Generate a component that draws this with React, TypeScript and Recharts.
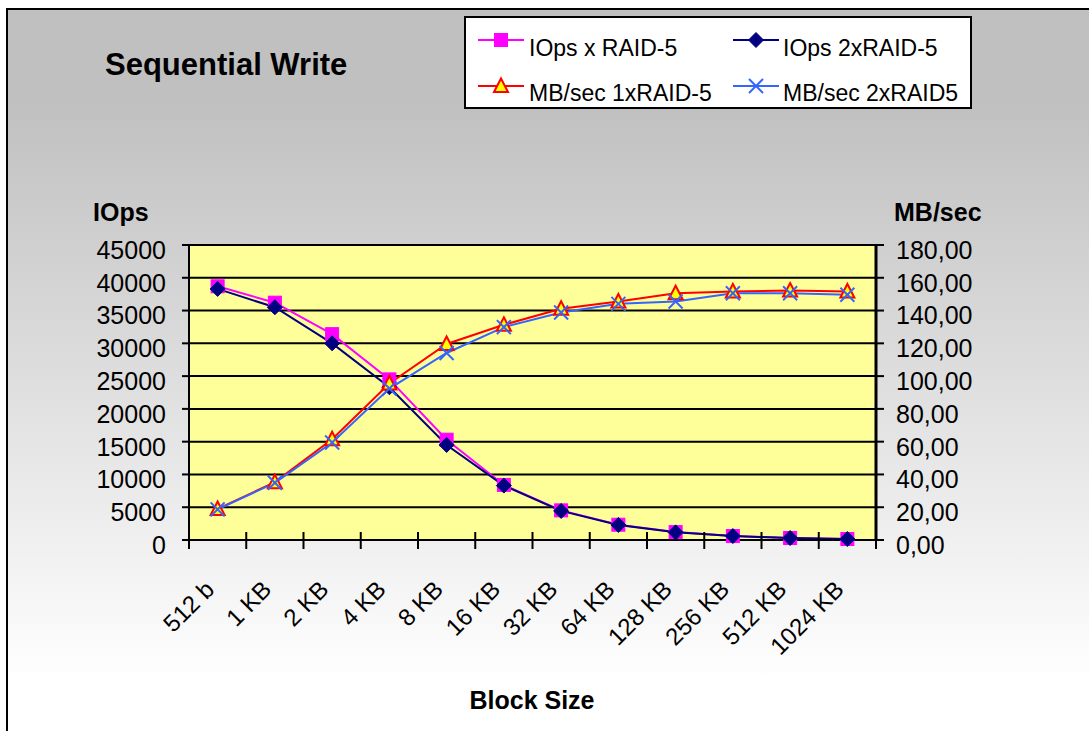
import React from 'react';
import { LineChart, Line, XAxis, YAxis, CartesianGrid, Legend } from 'recharts';

// ---- data ----
const blockSizes = ['512 b', '1 KB', '2 KB', '4 KB', '8 KB', '16 KB', '32 KB', '64 KB', '128 KB', '256 KB', '512 KB', '1024 KB'];
const iopsRaid5 = [38700, 36200, 31400, 24500, 15300, 8400, 4520, 2330, 1205, 606, 304, 152];
const iops2xRaid5 = [38300, 35500, 30000, 23300, 14500, 8300, 4440, 2300, 1165, 602, 301, 150];
const mbs1xRaid5 = [18.9, 35.3, 61.5, 95.5, 119.6, 131.3, 141.1, 145.5, 150.6, 151.6, 152.2, 151.6];
const mbs2xRaid5 = [18.7, 34.9, 59.5, 92.4, 114.1, 129.9, 138.8, 144.1, 145.5, 150.6, 150.6, 149.6];
const iopsTicks = [0, 5000, 10000, 15000, 20000, 25000, 30000, 35000, 40000, 45000];
const mbTicks = [0, 20, 40, 60, 80, 100, 120, 140, 160, 180];

const rows = blockSizes.map((block, i) => ({
  block,
  idx: i,
  iops1: iopsRaid5[i],
  iops2: iops2xRaid5[i],
  mb1: mbs1xRaid5[i],
  mb2: mbs2xRaid5[i],
}));
const boundaryTicks = blockSizes.map((_, i) => i).concat(blockSizes.length);

const series = [
  { key: 'iops1', name: 'IOps x RAID-5', color: '#FF00FF', axis: 'left', marker: 'square' },
  { key: 'iops2', name: 'IOps 2xRAID-5', color: '#000080', axis: 'left', marker: 'diamond' },
  { key: 'mb1', name: 'MB/sec 1xRAID-5', color: '#FF0000', axis: 'right', marker: 'triangle' },
  { key: 'mb2', name: 'MB/sec 2xRAID5', color: '#3366FF', axis: 'right', marker: 'cross' },
];

const FONT = '"Liberation Sans", Arial, Helvetica, sans-serif';

function marker(kind: string, cx: number, cy: number, color: string, key?: any) {
  if (cx == null || cy == null) return <g key={key} />;
  if (kind === 'square') {
    return <rect key={key} x={cx - 6.5} y={cy - 6.5} width={13} height={13} fill={color} stroke={color} strokeWidth={1} />;
  }
  if (kind === 'diamond') {
    return (
      <polygon
        key={key}
        points={`${cx},${cy - 7.5} ${cx + 7.5},${cy} ${cx},${cy + 7.5} ${cx - 7.5},${cy}`}
        fill={color}
        stroke={color}
      />
    );
  }
  if (kind === 'triangle') {
    return (
      <polygon
        key={key}
        points={`${cx},${cy - 7.5} ${cx + 7},${cy + 6} ${cx - 7},${cy + 6}`}
        fill="#FFFF00"
        stroke={color}
        strokeWidth={2}
      />
    );
  }
  return (
    <g key={key}>
      <line x1={cx - 7} y1={cy - 7} x2={cx + 7} y2={cy + 7} stroke={color} strokeWidth={2} />
      <line x1={cx - 7} y1={cy + 7} x2={cx + 7} y2={cy - 7} stroke={color} strokeWidth={2} />
    </g>
  );
}

const fmtMb = (v: number) => v.toFixed(2).replace('.', ',');

const LeftTick = (props: any) => {
  const { x, y, payload } = props;
  return (
    <text x={x} y={y + 5} dy="0.355em" textAnchor="end" fontSize={25} fontFamily={FONT} fill="#000">
      {payload.value}
    </text>
  );
};

const RightTick = (props: any) => {
  const { x, y, payload } = props;
  return (
    <text x={x} y={y + 5} dy="0.355em" textAnchor="start" fontSize={25} fontFamily={FONT} fill="#000">
      {fmtMb(payload.value)}
    </text>
  );
};

const XTick = (props: any) => {
  const { x, y, payload } = props;
  const ax = x - 14;
  return (
    <text
      x={ax}
      y={y}
      dy="0.71em"
      transform={`rotate(-45 ${ax} ${y})`}
      textAnchor="end"
      fontSize={24}
      fontFamily={FONT}
      fill="#000"
    >
      {payload.value}
    </text>
  );
};

const renderLegend = (props: any) => {
  const payload = props.payload || [];
  const ordered = series.map((s) => ({ s, entry: payload.find((p: any) => p.value === s.name) }));
  return (
    <div
      style={{
        position: 'relative',
        width: 508,
        height: 93,
        boxSizing: 'border-box',
        border: '2px solid #000',
        background: '#FFFFFF',
        fontFamily: FONT,
      }}
    >
      {ordered.map(({ s, entry }, i) => {
        const r = Math.floor(i / 2);
        const c = i % 2;
        const color = entry ? entry.color : s.color;
        return (
          <React.Fragment key={s.key}>
            <svg
              width={46}
              height={20}
              style={{ position: 'absolute', left: 12 + c * 255, top: 12 + r * 46, overflow: 'visible' }}
            >
              <line x1={0} y1={10} x2={46} y2={10} stroke={color} strokeWidth={2} />
              {marker(s.marker, 23, 10, color)}
            </svg>
            <div
              style={{
                position: 'absolute',
                left: 63 + c * 254,
                top: 19 + r * 45,
                fontSize: 23,
                lineHeight: '23px',
                whiteSpace: 'nowrap',
                color: '#000',
              }}
            >
              {entry ? entry.value : s.name}
            </div>
          </React.Fragment>
        );
      })}
    </div>
  );
};

const textBase: React.CSSProperties = {
  position: 'absolute',
  fontFamily: FONT,
  fontWeight: 'bold',
  color: '#000',
  whiteSpace: 'nowrap',
};

const EmptyTick = () => <g />;

export default function App() {
  return (
    <div style={{ position: 'absolute', left: 0, top: 0, width: 1089, height: 731, overflow: 'hidden', background: '#fff' }}>
      <div
        style={{
          position: 'absolute',
          left: 6,
          top: 8,
          width: 1100,
          height: 740,
          border: '2px solid #000',
          background: 'linear-gradient(to bottom, #C0C0C0 0px, #C0C0C0 92px, #FFFFFF 672px)',
        }}
      />
      <div style={{ position: 'absolute', left: 0, top: 0 }}>
        <LineChart width={1089} height={731} data={rows} margin={{ top: 245, right: 93, bottom: 40, left: 89 }}>
          <CartesianGrid
            xAxisId="cat"
            yAxisId="left"
            vertical={false}
            stroke="#000"
            strokeWidth={2}
            fill="#FFFF99"
            fillOpacity={1}
          />
          <XAxis
            xAxisId="bounds"
            dataKey="idx"
            type="number"
            domain={[0, blockSizes.length]}
            allowDataOverflow
            ticks={boundaryTicks}
            interval={0}
            height={1}
            tick={(p: any) => <EmptyTick {...p} />}
            tickSize={17}
            tickLine={{ stroke: '#000', strokeWidth: 2, transform: 'translate(0,-8)' }}
            axisLine={{ stroke: '#000', strokeWidth: 2 }}
          />
          <XAxis
            xAxisId="cat"
            dataKey="block"
            scale="band"
            height={150}
            interval={0}
            tickLine={false}
            axisLine={false}
            tickSize={0}
            tickMargin={38}
            tick={(p: any) => <XTick {...p} />}
          />
          <YAxis
            yAxisId="left"
            width={100}
            domain={[0, 45000]}
            ticks={iopsTicks}
            interval={0}
            tickSize={7}
            tickMargin={16}
            tick={(p: any) => <LeftTick {...p} />}
            axisLine={{ stroke: '#000', strokeWidth: 2 }}
            tickLine={{ stroke: '#000', strokeWidth: 2 }}
          />
          <YAxis
            yAxisId="right"
            orientation="right"
            width={120}
            domain={[0, 180]}
            ticks={mbTicks}
            interval={0}
            tickSize={8}
            tickMargin={12}
            tick={(p: any) => <RightTick {...p} />}
            axisLine={{ stroke: '#000', strokeWidth: 3 }}
            tickLine={{ stroke: '#000', strokeWidth: 2 }}
          />
          {series.map((s) => (
            <Line
              key={s.key}
              type="linear"
              dataKey={s.key}
              name={s.name}
              xAxisId="cat"
              yAxisId={s.axis}
              stroke={s.color}
              strokeWidth={2}
              isAnimationActive={false}
              dot={(p: any) => marker(s.marker, p.cx, p.cy, s.color, `${s.key}-${p.index}`)}
              activeDot={false}
            />
          ))}
          <Legend
            layout="vertical"
            align="center"
            verticalAlign="middle"
            content={renderLegend}
            wrapperStyle={{ left: 464, top: 16, width: 508, height: 93 }}
          />
        </LineChart>
      </div>
      <div style={{ ...textBase, left: 105, top: 49, fontSize: 31, lineHeight: '31px' }}>Sequential Write</div>
      <div style={{ ...textBase, left: 93, top: 200, fontSize: 25, lineHeight: '25px' }}>IOps</div>
      <div style={{ ...textBase, left: 894, top: 200, fontSize: 25, lineHeight: '25px' }}>MB/sec</div>
      <div style={{ ...textBase, left: 432, width: 200, textAlign: 'center', top: 688, fontSize: 25, lineHeight: '25px' }}>
        Block Size
      </div>
    </div>
  );
}
